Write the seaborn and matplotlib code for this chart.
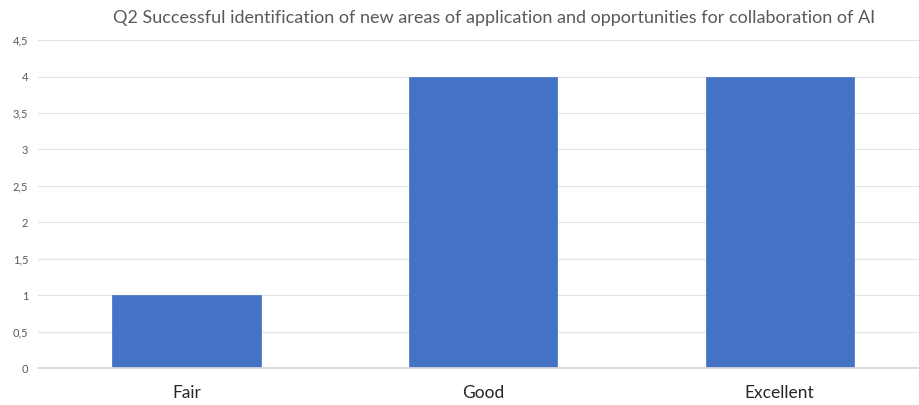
import matplotlib
matplotlib.use("Agg")
import matplotlib.pyplot as plt
import seaborn as sns
import pandas as pd

categories = ["Fair", "Good", "Excellent"]
counts = [1, 4, 4]
y_ticks = [0, 0.5, 1, 1.5, 2, 2.5, 3, 3.5, 4, 4.5]
y_tick_labels = ["0", "0,5", "1", "1,5", "2", "2,5", "3", "3,5", "4", "4,5"]
title = "Q2 Successful identification of new areas of application and opportunities for collaboration of AI"

sns.set_theme(style="white")
plt.rcParams["font.family"] = ["Lato", "DejaVu Sans"]

df = pd.DataFrame({"rating": categories, "count": counts})

fig = plt.figure(figsize=(9.19, 4.05), dpi=100)
ax = fig.add_axes([38 / 919, 0.091, 890 / 919, 0.810])

sns.barplot(data=df, x="rating", y="count", color="#4472C4", width=0.5,
            saturation=1, edgecolor="#4472C4", linewidth=0.5, ax=ax)

ax.set_ylim(0, 4.5)
ax.set_yticks(y_ticks)
ax.set_yticklabels(y_tick_labels, fontsize=8, color="#595959")
ax.set_xlim(-0.5, 2.5)
ax.tick_params(axis="x", labelsize=12.5, colors="#262626", length=0, pad=12)
ax.tick_params(axis="y", length=0, pad=7)

ax.grid(axis="y", color="#E3E3E3", linewidth=0.8)
ax.set_axisbelow(True)
for side in ["top", "right", "left"]:
    ax.spines[side].set_visible(False)
ax.spines["bottom"].set_color("#D9D9D9")
ax.set_xlabel("")
ax.set_ylabel("")

fig.text(0.5375, 0.955, title, ha="center", va="center", fontsize=13.0, color="#595959")

fig.savefig("out.png", dpi=100, facecolor="white")
